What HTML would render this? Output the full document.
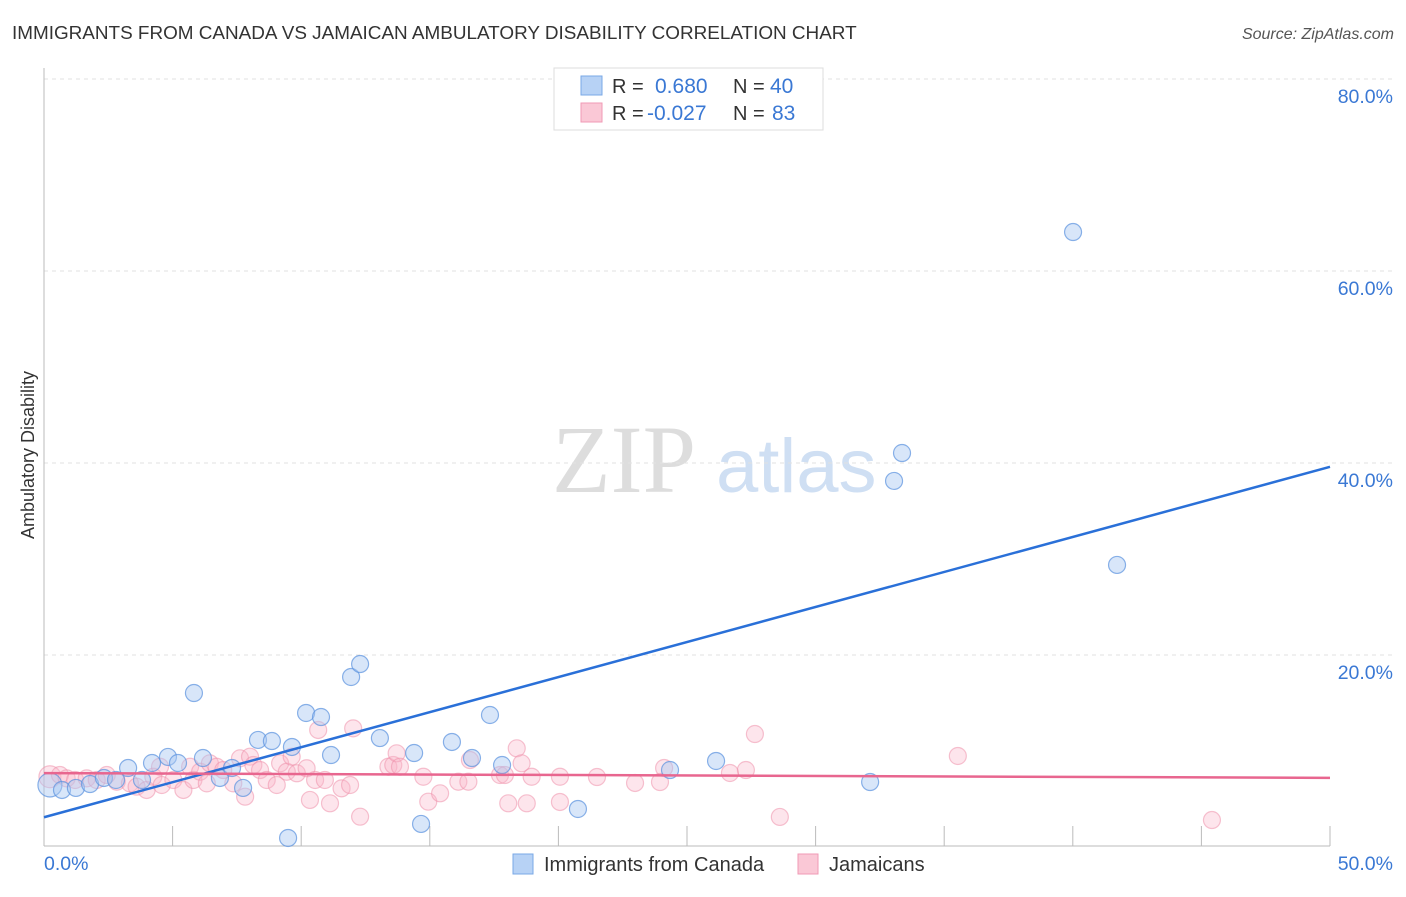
<!DOCTYPE html>
<html><head><meta charset="utf-8"><style>
body{margin:0;background:#fff;font-family:"Liberation Sans",sans-serif}
</style></head><body>
<svg width="1406" height="892" xmlns="http://www.w3.org/2000/svg" style="font-family:'Liberation Sans',sans-serif">
<text x="12" y="39" font-size="18.9" fill="#333">IMMIGRANTS FROM CANADA VS JAMAICAN AMBULATORY DISABILITY CORRELATION CHART</text>
<text x="1394" y="39" font-size="16" fill="#555" font-style="italic" text-anchor="end">Source: ZipAtlas.com</text>
<g>
<text x="552" y="492" font-size="96" fill="#ddd" font-family="Liberation Serif,serif">ZIP</text>
<text x="716" y="492" font-size="76" fill="#cfdff3">atlas</text>
</g>
<g id="grid"></g>
<g id="axes"></g>
<g id="pts"></g>
<g id="lines"></g>
<text transform="translate(34,455) rotate(-90)" font-size="18" fill="#333" text-anchor="middle">Ambulatory Disability</text>
<g>
<rect x="554" y="68" width="269" height="62" fill="#fff" stroke="#ddd"/>
<rect x="581" y="76" width="21" height="19" fill="#b7d2f5" stroke="#7aa8e6"/>
<rect x="581" y="103" width="21" height="19" fill="#fac8d6" stroke="#f09ab5"/>
<text x="612" y="93" font-size="20" fill="#333">R =</text>
<text x="655" y="93" font-size="21" fill="#3a78d4">0.680</text>
<text x="733" y="93" font-size="20" fill="#333">N =</text>
<text x="770" y="93" font-size="21" fill="#3a78d4">40</text>
<text x="612" y="120" font-size="20" fill="#333">R =</text>
<text x="647" y="120" font-size="21" fill="#3a78d4">-0.027</text>
<text x="733" y="120" font-size="20" fill="#333">N =</text>
<text x="772" y="120" font-size="21" fill="#3a78d4">83</text>
</g>
<g>
<rect x="513" y="854" width="20" height="20" fill="#b7d2f5" stroke="#7aa8e6"/>
<text x="544" y="871" font-size="20" fill="#333">Immigrants from Canada</text>
<rect x="798" y="854" width="20" height="20" fill="#fac8d6" stroke="#f09ab5"/>
<text x="829" y="871" font-size="20" fill="#333">Jamaicans</text>
</g>
</svg>
<script>
const yTicks=[20,40,60,80];
const yTickLabels=["20.0%","40.0%","60.0%","80.0%"];
const xTickLabels=["0.0%","50.0%"];
const blueX=[0.23,0.70,1.24,1.79,2.33,2.80,3.27,3.81,4.20,4.82,5.21,5.83,6.18,6.84,7.31,7.74,8.32,8.86,9.64,9.49,10.19,10.77,11.16,11.94,12.29,13.06,14.39,14.66,15.86,16.64,17.34,17.81,20.76,24.34,26.13,32.12,33.05,33.36,40.01,41.72];
const blueY=[6.46,5.94,6.15,6.56,7.19,6.98,8.23,6.98,8.75,9.38,8.75,16.04,9.27,7.19,8.23,6.15,11.15,11.04,10.42,0.94,13.96,13.54,9.58,17.71,19.06,11.35,9.79,2.40,10.94,9.27,13.75,8.54,3.96,8.02,8.96,6.77,38.13,41.04,64.06,29.38];
const pinkX=[0.23,0.62,0.88,1.21,1.66,2.05,2.44,2.83,3.34,3.60,3.99,4.25,4.51,4.58,5.03,5.42,5.68,5.81,6.07,6.33,6.45,6.71,6.97,7.36,7.62,7.82,8.01,8.14,8.40,8.66,9.05,9.18,9.44,9.63,9.83,10.21,10.34,10.54,10.66,10.92,11.12,11.57,11.90,12.02,12.29,13.39,13.58,13.71,13.84,14.75,14.94,15.40,16.11,16.50,16.56,17.73,17.92,18.05,18.38,18.57,18.77,18.96,20.06,20.06,21.50,22.98,24.11,23.95,26.67,27.29,27.64,28.61,35.53,45.41];
const pinkY=[7.32,7.50,7.15,6.98,7.15,6.98,7.50,6.80,6.63,6.28,5.94,7.32,8.36,6.46,6.98,5.94,8.36,6.98,7.84,6.63,8.72,8.36,8.02,6.63,9.24,5.24,9.41,8.54,8.02,6.98,6.46,8.72,7.84,9.41,7.68,8.20,4.90,6.98,12.19,6.98,4.55,6.11,6.46,12.36,3.16,8.36,8.54,9.76,8.36,7.32,4.72,5.59,6.80,6.80,9.06,7.50,7.50,4.55,10.28,8.72,4.55,7.32,7.32,4.69,7.29,6.67,8.23,6.77,7.71,8.02,11.77,3.13,9.48,2.81];
const blueTrend=[3.1,39.6];
const pinkTrend=[7.7,7.2];
const NS="http://www.w3.org/2000/svg";
const X0=44,X1=1330,Y0=847;
const sx=v=>X0+(v/50)*(X1-X0);
const sy=v=>Y0-v*9.6;
function mk(tag,attrs,parent){const e=document.createElementNS(NS,tag);for(const k in attrs)e.setAttribute(k,attrs[k]);document.getElementById(parent).appendChild(e);return e;}
yTicks.forEach((t,i)=>{
 const l=mk('line',{x1:X0,x2:1395,y1:sy(t),y2:sy(t),stroke:'#e2e2e2','stroke-dasharray':'4,4'},'grid');
 
 
 const tx=mk('text',{x:1393,y:sy(t)+24,'font-size':19.5,fill:'#3a78d4','text-anchor':'end'},'axes');
 tx.textContent=yTickLabels[i];
 
 
});
const ax=mk('line',{x1:X0,x2:X0,y1:68,y2:846,stroke:'#bbb'},'axes');


const bx=mk('line',{x1:X0,x2:X1,y1:846,y2:846,stroke:'#bbb'},'axes');


for(let i=1;i<=10;i++){
 const tk=mk('line',{x1:sx(i*5),x2:sx(i*5),y1:826,y2:846,stroke:'#bbb'},'axes');
 
 
}
[[0,'start',X0],[1,'end',1393]].forEach(([i,a,x])=>{
 const t=mk('text',{x:x,y:870,'font-size':19.5,fill:'#3a78d4','text-anchor':a},'axes');
 t.textContent=xTickLabels[i];
 
 
});
pinkX.forEach((v,i)=>{
 const c=mk('circle',{cx:sx(v),cy:sy(pinkY[i]),r:i===0?11:8.5,fill:'rgba(248,180,200,0.35)',stroke:'rgba(238,145,172,0.55)','stroke-width':1.2},'pts');
 
 
});
blueX.forEach((v,i)=>{
 const c=mk('circle',{cx:sx(v),cy:sy(blueY[i]),r:i===0?12:8.5,fill:'rgba(168,200,242,0.45)',stroke:'rgba(90,145,222,0.7)','stroke-width':1.2},'pts');
 
 
});
const bl=mk('line',{x1:sx(0),y1:sy(blueTrend[0]),x2:sx(50),y2:sy(blueTrend[1]),stroke:'#2a70d8','stroke-width':2.5},'lines');


const pl=mk('line',{x1:sx(0),y1:sy(pinkTrend[0]),x2:sx(50),y2:sy(pinkTrend[1]),stroke:'#e8668f','stroke-width':2.5},'lines');


</script>
</body></html>
